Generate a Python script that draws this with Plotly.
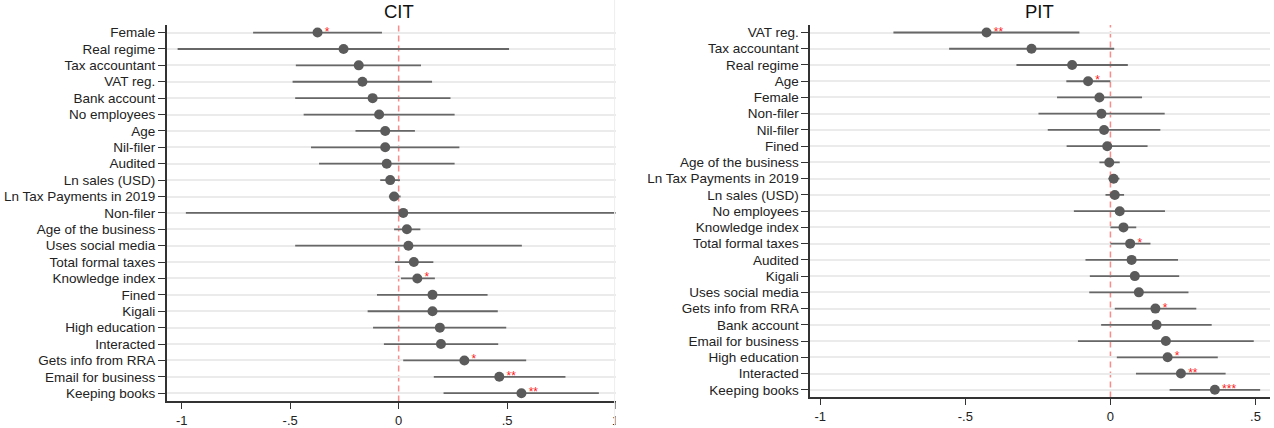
import plotly.graph_objects as go

# ---- CIT model: coefficients, 95% CI bounds and significance stars ----
cit_labels = [
    "Female", "Real regime", "Tax accountant", "VAT reg.", "Bank account",
    "No employees", "Age", "Nil-filer", "Audited", "Ln sales (USD)",
    "Ln Tax Payments in 2019", "Non-filer", "Age of the business",
    "Uses social media", "Total formal taxes", "Knowledge index", "Fined",
    "Kigali", "High education", "Interacted", "Gets info from RRA",
    "Email for business", "Keeping books",
]
cit_coef = [-0.374, -0.254, -0.184, -0.167, -0.120, -0.090, -0.062, -0.062,
            -0.055, -0.039, -0.021, 0.021, 0.038, 0.045, 0.070, 0.086, 0.156,
            0.156, 0.190, 0.195, 0.303, 0.464, 0.566]
cit_lo = [-0.671, -1.019, -0.474, -0.489, -0.477, -0.438, -0.199, -0.404,
          -0.367, -0.085, -0.045, -0.981, -0.021, -0.477, -0.017, 0.011,
          -0.100, -0.143, -0.118, -0.068, 0.021, 0.162, 0.207]
cit_hi = [-0.077, 0.509, 0.103, 0.154, 0.239, 0.258, 0.075, 0.280, 0.258,
          0.006, 0.009, 1.040, 0.100, 0.568, 0.160, 0.167, 0.410, 0.457,
          0.496, 0.459, 0.588, 0.769, 0.923]
cit_stars = ["*", "", "", "", "", "", "", "", "", "", "", "", "", "", "",
             "*", "", "", "", "", "*", "**", "**"]

# ---- PIT model ----
pit_labels = [
    "VAT reg.", "Tax accountant", "Real regime", "Age", "Female", "Non-filer",
    "Nil-filer", "Fined", "Age of the business", "Ln Tax Payments in 2019",
    "Ln sales (USD)", "No employees", "Knowledge index", "Total formal taxes",
    "Audited", "Kigali", "Uses social media", "Gets info from RRA",
    "Bank account", "Email for business", "High education", "Interacted",
    "Keeping books",
]
pit_coef = [-0.427, -0.272, -0.132, -0.077, -0.038, -0.031, -0.022, -0.011,
            -0.004, 0.011, 0.015, 0.032, 0.045, 0.068, 0.073, 0.084, 0.098,
            0.155, 0.159, 0.191, 0.197, 0.243, 0.360]
pit_lo = [-0.748, -0.556, -0.324, -0.152, -0.184, -0.248, -0.216, -0.151,
          -0.038, -0.007, -0.017, -0.126, 0.000, 0.000, -0.086, -0.071,
          -0.073, 0.015, -0.032, -0.112, 0.022, 0.088, 0.204]
pit_hi = [-0.107, 0.013, 0.060, 0.000, 0.109, 0.187, 0.172, 0.128, 0.032,
          0.031, 0.047, 0.188, 0.089, 0.138, 0.233, 0.237, 0.269, 0.296,
          0.349, 0.494, 0.370, 0.397, 0.516]
pit_stars = ["**", "", "", "*", "", "", "", "", "", "", "", "", "", "*", "",
             "", "", "*", "", "", "*", "**", "***"]

x_ticks = [-1, -0.5, 0, 0.5, 1]
x_ticktext = ["-1", "-.5", "0", ".5", "1"]

W, H = 1274, 428
FONT = "Liberation Sans, Arial, sans-serif"
DOT = "#5b5b5b"
BAR = "#676767"


def px_x(p):
    return p / W


def px_y(p):
    return 1 - p / H


fig = go.Figure()


def add_panel(labels, coef, lo, hi, stars, xa, ya):
    plus = [h - c for h, c in zip(hi, coef)]
    minus = [c - l for c, l in zip(coef, lo)]
    fig.add_trace(go.Scatter(
        x=coef, y=labels, mode="markers+text",
        xaxis=xa, yaxis=ya,
        marker=dict(size=10, color=DOT),
        error_x=dict(type="data", symmetric=False, array=plus,
                     arrayminus=minus, width=0, thickness=1.8, color=BAR),
        text=stars, textposition="middle right",
        textfont=dict(color="#ff2020", size=12, family=FONT),
        showlegend=False, hoverinfo="skip",
    ))


add_panel(cit_labels, cit_coef, cit_lo, cit_hi, cit_stars, "x", "y")
add_panel(pit_labels, pit_coef, pit_lo, pit_hi, pit_stars, "x2", "y2")

common_x = dict(
    tickmode="array", tickvals=x_ticks, ticktext=x_ticktext,
    showgrid=False, zeroline=False, showline=True, linecolor="#333333",
    linewidth=1.5, ticks="outside", ticklen=6, tickwidth=1.2,
    tickcolor="#333333", tickfont=dict(size=13, color="#222222", family=FONT),
)
common_y = dict(
    type="category", showgrid=True, gridcolor="#ebebeb", gridwidth=1.6,
    zeroline=False, showline=True, linecolor="#333333", linewidth=1.5,
    ticks="outside", ticklen=7, tickwidth=1.2, tickcolor="#333333",
    tickfont=dict(size=13.5, color="#222222", family=FONT),
)

fig.update_layout(
    width=W, height=H,
    margin=dict(l=0, r=0, t=0, b=0),
    paper_bgcolor="white", plot_bgcolor="white",
    xaxis=dict(domain=[px_x(167.3), px_x(617.5)], range=[-1.069, 1.0],
               anchor="y", **common_x),
    yaxis=dict(domain=[px_y(403.3), px_y(25)], anchor="x",
               categoryorder="array", categoryarray=cit_labels,
               range=[22.5, -0.47], **common_y),
    xaxis2=dict(domain=[px_x(812.7), 1.0], range=[-1.035, 0.55],
                anchor="y2", **common_x),
    yaxis2=dict(domain=[px_y(399.3), px_y(25)], anchor="x2",
                categoryorder="array", categoryarray=pit_labels,
                range=[22.47, -0.47], **common_y),
)

# reference line at zero in each panel
for xr, yr in (("x", "y domain"), ("x2", "y2 domain")):
    fig.add_shape(type="line", xref=xr, yref=yr, x0=0, x1=0, y0=0, y1=1,
                  line=dict(color="#ff8a8a", width=1.5, dash="6px,4px"),
                  layer="below")

# faint edge of the left graph region, and the clipped end of its axis
fig.add_shape(type="line", xref="paper", yref="paper",
              x0=px_x(616.5), x1=px_x(616.5), y0=0, y1=1,
              line=dict(color="#eeeeee", width=1))
fig.add_shape(type="rect", xref="paper", yref="paper",
              x0=px_x(617.5), x1=px_x(650), y0=0, y1=px_y(404.5),
              fillcolor="white", line=dict(width=0), layer="above")

# panel titles
for txt, xc in (("CIT", 400), ("PIT", 1043)):
    fig.add_annotation(text=txt, xref="paper", yref="paper",
                       x=px_x(xc), y=px_y(12), xanchor="center",
                       yanchor="middle", showarrow=False,
                       font=dict(size=18.5, color="#111111", family=FONT))

fig.write_html("out.html")
